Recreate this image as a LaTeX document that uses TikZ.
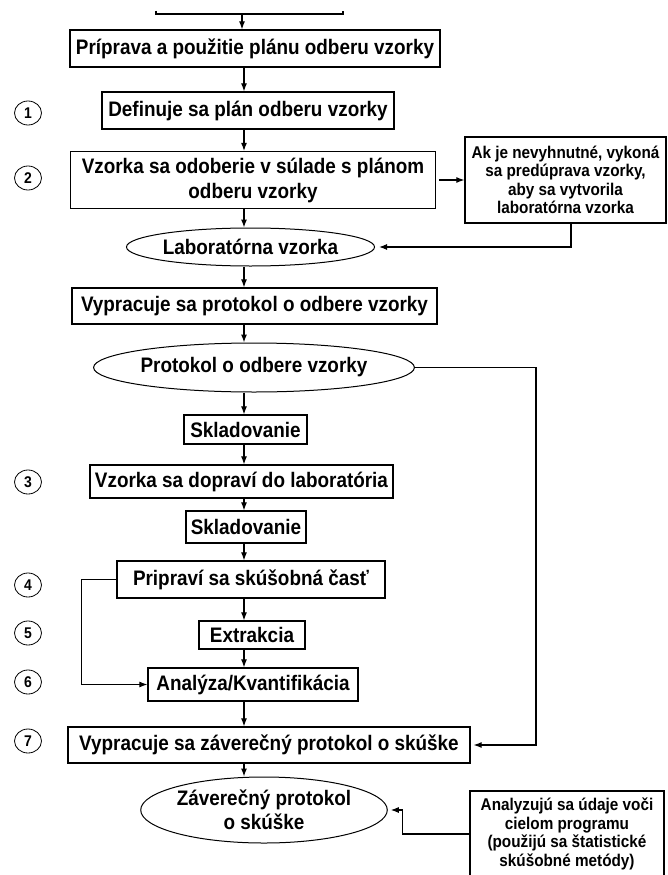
\documentclass[tikz,border=0pt]{standalone}
\usepackage{fontspec}
\setmainfont{Liberation Sans}[FakeStretch=0.9]
\usetikzlibrary{shapes.geometric,arrows.meta}
\begin{document}
\begin{tikzpicture}[x=1pt,y=-1pt,
  box/.style={draw,line width=1.3pt,rectangle,inner sep=0pt,align=center,font=\fontsize{21}{25}\selectfont\bfseries},
  oval/.style={draw,line width=1pt,ellipse,inner sep=0pt,align=center,font=\fontsize{21}{23.5}\selectfont\bfseries},
  note/.style={draw,line width=1.3pt,rectangle,inner sep=0pt,align=center,font=\fontsize{17}{18.5}\selectfont\bfseries},
  num/.style={draw,ellipse,line width=0.8pt,minimum width=27pt,minimum height=24pt,inner sep=0pt,font=\fontsize{15.5}{15.5}\selectfont\bfseries},
  arr/.style={-{Latex[length=8pt,width=6pt]},line width=1.1pt},
  ln/.style={line width=1.1pt}]
\useasboundingbox[fill=white] (0,0) rectangle (668,875);

% column for vertical arrows
\coordinate (col) at (244,0);
\coordinate (top) at (242,14);
\coordinate (bl) at (156,14);
\coordinate (br) at (343,14);
\coordinate (rcol) at (536,0);

% main boxes
\node[box,minimum width=370pt,minimum height=37pt] (b1) at (255,48.5) {Príprava a použitie plánu odberu vzorky};
\node[box,minimum width=292pt,minimum height=37pt] (b2) at (248,110.5) {Definuje sa plán odberu vzorky};
\node[box,minimum width=365pt,minimum height=57pt] (b3) at (253,180) {Vzorka sa odoberie v súlade s plánom\\odberu vzorky};
\node[note,minimum width=201pt,minimum height=86pt] (s1) at (565.5,180) {Ak je nevyhnutné, vykoná\\sa predúprava vzorky,\\aby sa vytvorila\\laboratórna vzorka};
\node[oval,minimum width=215pt,minimum height=38pt] (e1) at (250.5,247) {Laboratórna vzorka};
\node[box,minimum width=365pt,minimum height=36pt] (b4) at (254.5,306) {Vypracuje sa protokol o odbere vzorky};
\node[oval,minimum width=282pt,minimum height=49pt] (e2) at (254,367.5) {Protokol o odbere vzorky};
\node[box,minimum width=123pt,minimum height=29pt] (sk1) at (245.5,429.5) {Skladovanie};
\node[box,minimum width=303pt,minimum height=33pt] (b5) at (241.5,481.5) {Vzorka sa dopraví do laboratória};
\node[box,minimum width=120pt,minimum height=32pt] (sk2) at (246,527) {Skladovanie};
\node[box,minimum width=268pt,minimum height=37pt] (b6) at (251,579.5) {Pripraví sa skúšobná časť};
\node[box,minimum width=106pt,minimum height=28pt] (ext) at (252,635) {Extrakcia};
\node[box,minimum width=210pt,minimum height=33pt] (an) at (253,684.5) {Analýza/Kvantifikácia};
\node[box,minimum width=402pt,minimum height=36pt] (b7) at (269,745) {Vypracuje sa záverečný protokol o skúške};
\node[oval,minimum width=216pt,minimum height=66pt] (e3) at (264,810) {Záverečný protokol\\o skúške};
\node[note,minimum width=194pt,minimum height=86pt] (s2) at (567,834) {Analyzujú sa údaje voči\\cielom programu\\(použijú sa štatistické\\skúšobné metódy)};

% step numbers
\node[num] (n1) at (28,113) {1};
\node[num] (n2) at (28,178) {2};
\node[num] (n3) at (28,482) {3};
\node[num] (n4) at (28,585) {4};
\node[num] (n5) at (28,633) {5};
\node[num] (n6) at (28,682) {6};
\node[num] (n7) at (28,741) {7};

% top bracket
\draw[ln] ([yshift=3pt]bl) -- (bl) -- (br) -- ([yshift=3pt]br);
\draw[arr] (top) -- (b1.north -| top);

% main flow
\draw[arr] (b1.south -| col) -- (b2.north -| col);
\draw[arr] (b2.south -| col) -- (b3.north -| col);
\draw[arr] (b3.south -| col) -- (e1.north -| col);
\draw[arr] (e1.south -| col) -- (b4.north -| col);
\draw[arr] (b4.south -| col) -- (e2.north -| col);
\draw[arr] (e2.south -| col) -- (sk1.north -| col);
\draw[arr] (sk1.south -| col) -- (b5.north -| col);
\draw[arr] (b5.south -| col) -- (sk2.north -| col);
\draw[arr] (sk2.south -| col) -- (b6.north -| col);
\draw[arr] (b6.south -| col) -- (ext.north -| col);
\draw[arr] (ext.south -| col) -- (an.north -| col);
\draw[arr] (an.south -| col) -- (b7.north -| col);
\draw[arr] (b7.south -| col) -- (e3.north -| col);

% side connections
\draw[arr,shorten <=3pt] (b3.east) -- (b3.east -| s1.west);
\draw[arr,shorten >=4pt] ([xshift=5.5pt]s1.south) |- (e1.east);
\draw[arr,shorten >=3pt] (e2.east) -- (e2.east -| rcol) |- (b7.east);
\draw[arr] (b6.west) -- ++(-35,0) |- (an.west);
\draw[arr,shorten >=3pt] (s2.west) -- ++(-67,0) |- (e3.east);
\end{tikzpicture}
\end{document}
